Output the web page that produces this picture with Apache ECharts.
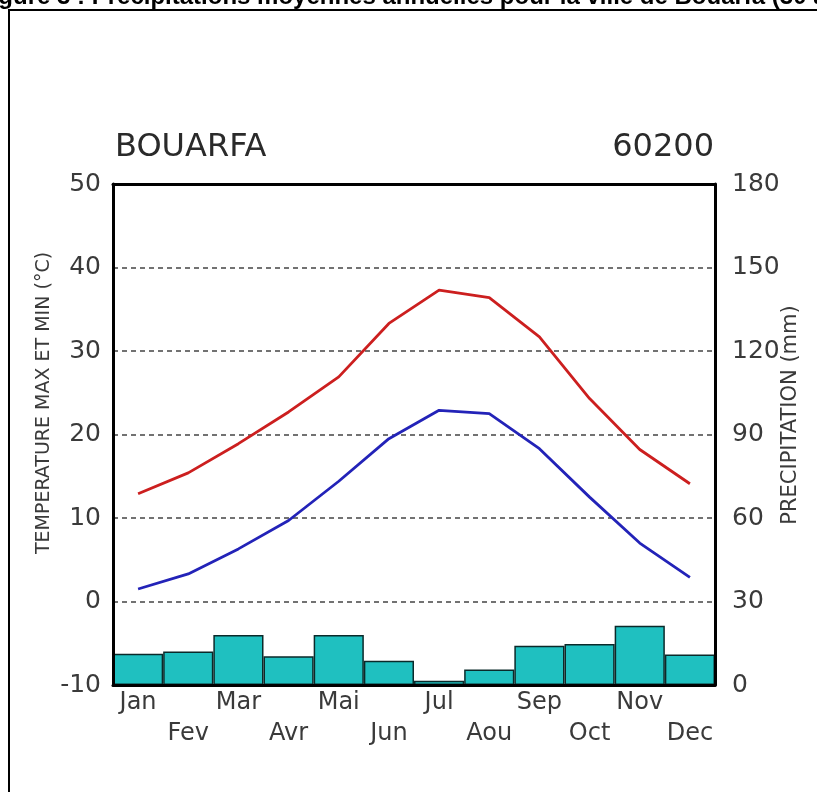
<!DOCTYPE html>
<html>
<head>
<meta charset="utf-8">
<script src="https://cdn.jsdelivr.net/npm/echarts@6/dist/echarts.min.js"></script>
<style>
html,body{margin:0;padding:0;background:#fff;}
#chart{width:817px;height:792px;}
</style>
</head>
<body>
<div id="chart"></div>
<script>
// ---- data ----
const months = ['Jan','Fev','Mar','Avr','Mai','Jun','Jul','Aou','Sep','Oct','Nov','Dec'];
const tempMax = [12.9, 15.4, 18.9, 22.7, 26.9, 33.3, 37.3, 36.4, 31.7, 24.3, 18.2, 14.1];
const tempMin = [1.5, 3.3, 6.3, 9.7, 14.4, 19.5, 22.9, 22.5, 18.3, 12.5, 7.0, 2.9];
const precip  = [11.2, 12.0, 18.0, 10.3, 18.0, 8.7, 1.5, 5.6, 14.1, 14.7, 21.3, 11.0];
const tempAxis = [-10, 50, 10];     // min, max, step
const precipAxis = [0, 180, 30];    // min, max, step
const stationName = 'BOUARFA';
const stationCode = '60200';
const figureTitle = 'Figure 3 : Précipitations moyennes annuelles pour la ville de Bouarfa (30 ans)';
const leftAxisName = 'TEMPERATURE MAX ET MIN (°C)';
const rightAxisName = 'PRECIPITATION (mm)';

const txt = '#3a3a3a';
const font = 'DejaVu Sans';

const chart = echarts.init(document.getElementById('chart'), null, {renderer: 'canvas'});
chart.setOption({
  backgroundColor: '#fff',
  animation: false,
  grid: {left: 113, top: 184, width: 602, height: 501, containLabel: false},
  xAxis: [{
    type: 'category',
    data: months,
    position: 'bottom',
    z: 10,
    axisLine: {show: true, onZero: false, lineStyle: {color: '#000', width: 3}},
    axisTick: {show: false},
    splitLine: {show: false},
    axisLabel: {
      interval: 0,
      margin: 2,
      color: txt,
      fontFamily: font,
      fontSize: 24,
      lineHeight: 31,
      formatter: function (v, i) { return i % 2 === 0 ? v : '\n' + v; }
    }
  }, {
    type: 'category',
    data: months,
    position: 'top',
    z: 10,
    axisLine: {show: true, onZero: false, lineStyle: {color: '#000', width: 3}},
    axisTick: {show: false},
    axisLabel: {show: false},
    splitLine: {show: false}
  }],
  yAxis: [{
    type: 'value',
    min: tempAxis[0], max: tempAxis[1], interval: tempAxis[2],
    position: 'left',
    z: 10,
    axisLine: {show: true, onZero: false, lineStyle: {color: '#000', width: 3}},
    axisTick: {show: false},
    axisLabel: {margin: 12, color: txt, fontFamily: font, fontSize: 25},
    splitLine: {show: true, lineStyle: {color: '#444', width: 1.5, type: [5, 4]}}
  }, {
    type: 'value',
    min: precipAxis[0], max: precipAxis[1], interval: precipAxis[2],
    position: 'right',
    z: 10,
    axisLine: {show: true, onZero: false, lineStyle: {color: '#000', width: 3}},
    axisTick: {show: false},
    axisLabel: {margin: 17, color: txt, fontFamily: font, fontSize: 25},
    splitLine: {show: false}
  }],
  series: [{
    type: 'bar',
    name: 'Précipitation',
    xAxisIndex: 0, yAxisIndex: 1,
    data: precip,
    barWidth: '100%',
    barCategoryGap: 0,
    itemStyle: {color: '#1fc0c0', borderColor: '#0a2a2a', borderWidth: 1.5},
    z: 2
  }, {
    type: 'line',
    name: 'Tmax',
    xAxisIndex: 0, yAxisIndex: 0,
    data: tempMax,
    symbol: 'none',
    lineStyle: {color: '#cc1f1f', width: 2.8},
    z: 20
  }, {
    type: 'line',
    name: 'Tmin',
    xAxisIndex: 0, yAxisIndex: 0,
    data: tempMin,
    symbol: 'none',
    lineStyle: {color: '#2323b8', width: 2.8},
    z: 20
  }],
  graphic: [{
    type: 'rect',
    z: 0,
    silent: true,
    shape: {x: 9, y: 10, width: 1000, height: 1000},
    style: {fill: 'none', stroke: '#000', lineWidth: 2}
  }, {
    type: 'text',
    z: 5,
    x: -23, y: -3,
    style: {text: figureTitle, fill: '#000', font: 'bold 24px "Liberation Sans", Arial, sans-serif', textAlign: 'left', textVerticalAlign: 'middle'}
  }, {
    type: 'text',
    x: 115, y: 148,
    style: {text: stationName, fill: '#2a2a2a', font: '32px "DejaVu Sans"', textAlign: 'left', textVerticalAlign: 'middle'}
  }, {
    type: 'text',
    x: 714, y: 148,
    style: {text: stationCode, fill: '#2a2a2a', font: '32px "DejaVu Sans"', textAlign: 'right', textVerticalAlign: 'middle'}
  }, {
    type: 'text',
    x: 44, y: 403,
    rotation: Math.PI / 2,
    style: {text: leftAxisName, fill: txt, font: '19px "DejaVu Sans"', textAlign: 'center', textVerticalAlign: 'middle'}
  }, {
    type: 'text',
    x: 791, y: 415,
    rotation: Math.PI / 2,
    style: {text: rightAxisName, fill: txt, font: '21px "DejaVu Sans"', textAlign: 'center', textVerticalAlign: 'middle'}
  }]
});
</script>
</body>
</html>
